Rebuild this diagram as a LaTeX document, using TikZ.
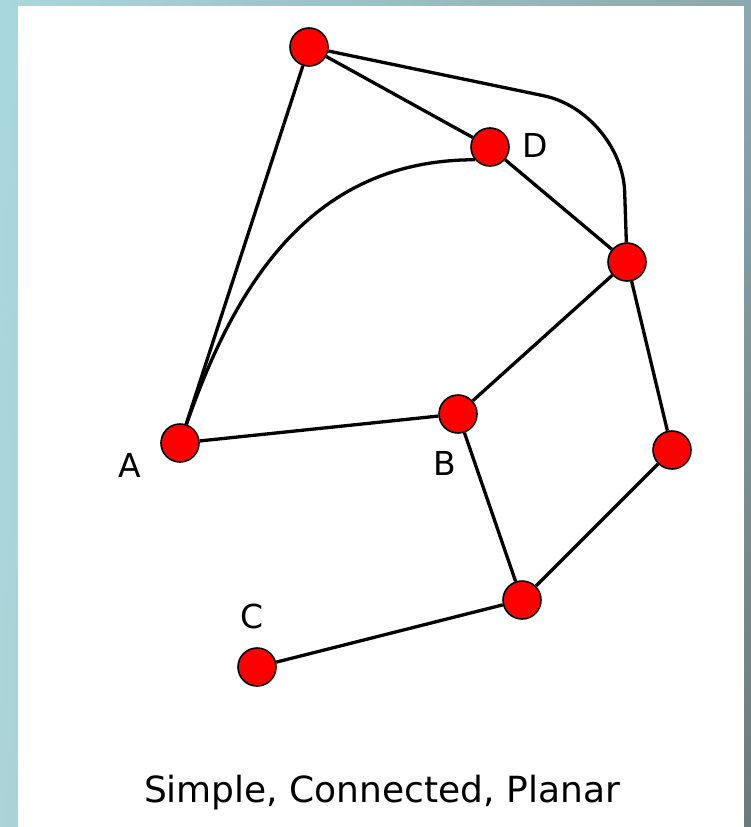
\documentclass[tikz,border=0pt]{standalone}
\usepackage{fontspec}
\setmainfont{DejaVu Sans}
\usetikzlibrary{calc, positioning, shadings}

\definecolor{bgUL}{RGB}{168,216,222}
\definecolor{bgUR}{RGB}{140,168,174}
\definecolor{bgLL}{RGB}{172,212,216}
\definecolor{bgLR}{RGB}{106,122,124}

\tikzset{
  vert/.style={circle, draw=black, line width=1.6pt, fill=red,
    minimum size=38pt, inner sep=0pt},
  link/.style={line width=3.3pt},
  lab/.style={font=\fontsize{33}{40}\selectfont, inner sep=0pt},
}

\begin{document}
\begin{tikzpicture}[x=1pt, y=-1pt]
  % backdrop and white card
  \shade[upper left=bgUL, upper right=bgUR, lower left=bgLL, lower right=bgLR]
    (0,0) rectangle (751,827);
  \fill[white] (18,6) rectangle (744,827);

  \node[vert] (top) at (309,47) {};
  \node[vert] (D)   at (490,147) {};
  \node[vert] (rt)  at (627,262) {};
  \node[vert] (B)   at (458,414) {};
  \node[vert] (A)   at (180,443) {};
  \node[vert] (far) at (672,450) {};
  \node[vert] (bot) at (522,600) {};
  \node[vert] (C)   at (257,667) {};

  \draw[link] (top) -- (A);
  \draw[link] (top) -- (D);
  \draw[link, rounded corners=80pt] (top) -- (622,112) -- (rt);
  \draw[link] (D.220) .. controls (320,160) and (240,270) .. (A);
  \draw[link] (D) -- (rt);
  \draw[link] (rt) -- (B);
  \draw[link] (rt) -- (far);
  \draw[link] (A) -- (B);
  \draw[link] (B) -- (bot);
  \draw[link] (far) -- (bot);
  \draw[link] (bot) -- (C);

  \node[lab] (labA) at (130,465) {A};
  \node[lab] (labB) at (445,463) {B};
  \node[lab] (labC) at (252,616) {C};
  \node[lab] (labD) at (535,145) {D};

  \node[font=\fontsize{36}{42}\selectfont, anchor=base] (cap) at (382,802)
    {Simple, Connected, Planar};
\end{tikzpicture}
\end{document}
